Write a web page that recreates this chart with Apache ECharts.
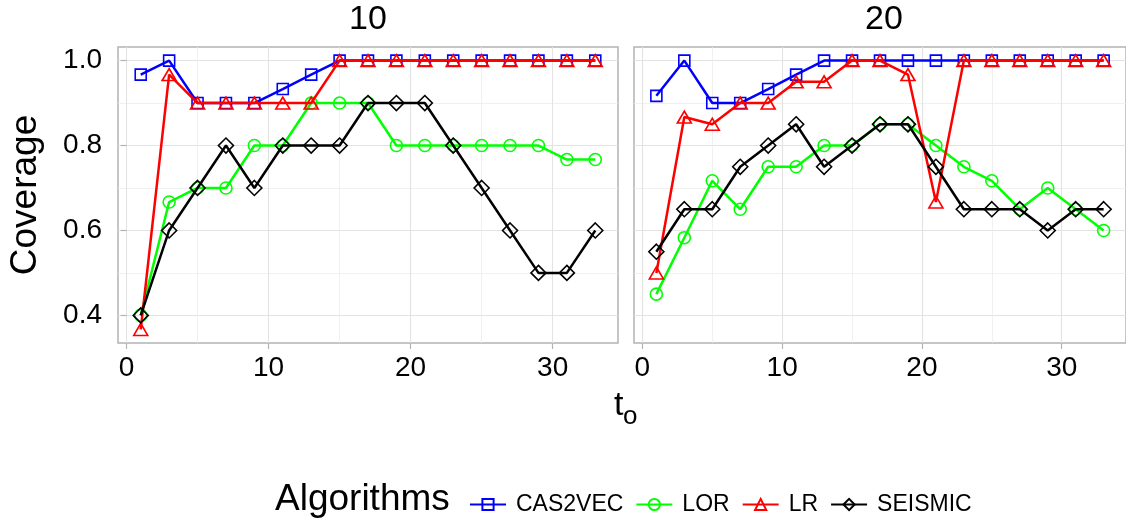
<!DOCTYPE html>
<html><head><meta charset="utf-8">
<script src="https://cdn.jsdelivr.net/npm/echarts@6/dist/echarts.min.js"></script>
<style>html,body{margin:0;padding:0;background:#fff}#c{width:1126px;height:525px}</style>
</head><body><div id="c"></div>
<script>
// ---- data ----
const panels = ['10', '20'];
const tOffsets = [1, 3, 5, 7, 9, 11, 13, 15, 17, 19, 21, 23, 25, 27, 29, 31, 33];
const algorithms = ['CAS2VEC', 'LOR', 'LR', 'SEISMIC'];
const xTickValues = [0, 10, 20, 30];
const xMinorValues = [5, 15, 25];
const yTickValues = [0.4, 0.6, 0.8, 1.0];
const yMinorValues = [0.5, 0.7, 0.9];

// panel "10"
const cas2vec10 = [0.967, 1.0, 0.9, 0.9, 0.9, 0.933, 0.967, 1.0, 1.0, 1.0, 1.0, 1.0, 1.0, 1.0, 1.0, 1.0, 1.0];
const lor10     = [0.4, 0.667, 0.7, 0.7, 0.8, 0.8, 0.9, 0.9, 0.9, 0.8, 0.8, 0.8, 0.8, 0.8, 0.8, 0.767, 0.767];
const lr10      = [0.367, 0.967, 0.9, 0.9, 0.9, 0.9, 0.9, 1.0, 1.0, 1.0, 1.0, 1.0, 1.0, 1.0, 1.0, 1.0, 1.0];
const seismic10 = [0.4, 0.6, 0.7, 0.8, 0.7, 0.8, 0.8, 0.8, 0.9, 0.9, 0.9, 0.8, 0.7, 0.6, 0.5, 0.5, 0.6];
// panel "20"
const cas2vec20 = [0.917, 1.0, 0.9, 0.9, 0.933, 0.967, 1.0, 1.0, 1.0, 1.0, 1.0, 1.0, 1.0, 1.0, 1.0, 1.0, 1.0];
const lor20     = [0.45, 0.583, 0.717, 0.65, 0.75, 0.75, 0.8, 0.8, 0.85, 0.85, 0.8, 0.75, 0.717, 0.65, 0.7, 0.65, 0.6];
const lr20      = [0.5, 0.867, 0.85, 0.9, 0.9, 0.95, 0.95, 1.0, 1.0, 0.967, 0.667, 1.0, 1.0, 1.0, 1.0, 1.0, 1.0];
const seismic20 = [0.55, 0.65, 0.65, 0.75, 0.8, 0.85, 0.75, 0.8, 0.85, 0.85, 0.75, 0.65, 0.65, 0.65, 0.6, 0.65, 0.65];

const panelData = [
  [cas2vec10, lor10, lr10, seismic10],
  [cas2vec20, lor20, lr20, seismic20]
];

// ---- style ----
const FONT = 'Liberation Sans, Arial, sans-serif';
const colors = ['#0000ff', '#00ff00', '#ff0000', '#000000'];
const symbols = ['rect', 'circle', 'triangle', 'diamond'];
const symbolSizes = [[11, 11], [12, 12], [14, 12], [15, 15]];
const gridLeft = [118, 634];
const gridW = 500, gridTop = 47, gridH = 296;
const xMin = -0.6, xMax = 34.6, yMin = 0.335, yMax = 1.032;

const chart = echarts.init(document.getElementById('c'), null, {renderer: 'canvas'});

const grids = panels.map((p, i) => ({
  left: gridLeft[i], top: gridTop, width: gridW, height: gridH,
  show: true, borderColor: '#b3b3b3', borderWidth: 1.5, backgroundColor: 'transparent'
}));

const xAxes = [];
const yAxes = [];
panels.forEach((p, i) => {
  // minor grid axes (gridlines only)
  xAxes.push({
    type: 'value', gridIndex: i, position: 'top', min: xMin, max: xMax, splitNumber: 7,
    axisLine: {show: false}, axisLabel: {show: false},
    axisTick: {show: false, customValues: xMinorValues},
    splitLine: {show: true, lineStyle: {color: '#ececec', width: 0.8}}
  });
  yAxes.push({
    type: 'value', gridIndex: i, position: 'right', min: yMin, max: yMax, splitNumber: 7,
    axisLine: {show: false}, axisLabel: {show: false},
    axisTick: {show: false, customValues: yMinorValues},
    splitLine: {show: true, lineStyle: {color: '#ececec', width: 0.8}}
  });
  // major axes (carry the data)
  xAxes.push({
    type: 'value', gridIndex: i, position: 'bottom', offset: 0, min: xMin, max: xMax, splitNumber: 7,
    axisLine: {show: false},
    axisTick: {show: true, length: 6, lineStyle: {color: '#b3b3b3', width: 1.2}, customValues: xTickValues},
    axisLabel: {show: true, fontSize: 28, fontFamily: FONT, color: '#000', margin: 11,
      customValues: xTickValues,
      formatter: v => (Math.abs(v / 10 - Math.round(v / 10)) < 1e-6 ? String(Math.round(v)) : '')},
    splitLine: {show: true, lineStyle: {color: '#e3e3e3', width: 1.1}}
  });
  yAxes.push({
    type: 'value', gridIndex: i, position: 'left', offset: 0, min: yMin, max: yMax, splitNumber: 7,
    axisLine: {show: false},
    axisTick: {show: i === 0, length: 6, lineStyle: {color: '#b3b3b3', width: 1.2}, customValues: yTickValues},
    axisLabel: {show: i === 0, fontSize: 28, fontFamily: FONT, color: '#000', margin: 16,
      customValues: yTickValues,
      formatter: v => (Math.abs(v * 5 - Math.round(v * 5)) < 1e-6 ? v.toFixed(1) : '')},
    splitLine: {show: true, lineStyle: {color: '#e3e3e3', width: 1.1}},
    name: i === 0 ? 'Coverage' : '',
    nameLocation: 'middle', nameRotate: 90, nameGap: 74,
    nameTextStyle: {fontSize: 37, fontFamily: FONT, color: '#000'}
  });
});

const series = [];
panels.forEach((p, pi) => {
  algorithms.forEach((name, ai) => {
    series.push({
      type: 'line', name: name, xAxisIndex: pi * 2 + 1, yAxisIndex: pi * 2 + 1,
      data: tOffsets.map((t, k) => [t, panelData[pi][ai][k]]),
      symbol: symbols[ai], symbolSize: symbolSizes[ai], showSymbol: true,
      itemStyle: {color: 'rgba(0,0,0,0)', borderColor: colors[ai], borderWidth: 1.6},
      lineStyle: {color: colors[ai], width: 2.5},
      emphasis: {disabled: true}, animation: false, z: 2 + ai
    });
  });
});

const option = {
  backgroundColor: '#ffffff',
  animation: false,
  grid: grids, xAxis: xAxes, yAxis: yAxes, series: series,
  legend: {
    data: algorithms, left: 469, top: 493, orient: 'horizontal', padding: 0,
    itemWidth: 36, itemHeight: 14, itemGap: 12, selectedMode: false,
    textStyle: {fontSize: 23, fontFamily: FONT, color: '#000', padding: [0, 0, 0, 5]}
  },
  graphic: [
    {type: 'text', x: gridLeft[0] + gridW / 2, y: 20, style: {text: panels[0], font: '34px ' + FONT, fill: '#000', align: 'center', verticalAlign: 'middle'}},
    {type: 'text', x: gridLeft[1] + gridW / 2, y: 20, style: {text: panels[1], font: '34px ' + FONT, fill: '#000', align: 'center', verticalAlign: 'middle'}},
    {type: 'text', x: 614, y: 406, style: {text: 't', font: '34px ' + FONT, fill: '#000', align: 'left', verticalAlign: 'middle'}},
    {type: 'text', x: 623, y: 417, style: {text: 'o', font: '26px ' + FONT, fill: '#000', align: 'left', verticalAlign: 'middle'}},
    {type: 'text', x: 275, y: 500, style: {text: 'Algorithms', font: '37px ' + FONT, fill: '#000', align: 'left', verticalAlign: 'middle'}}
  ]
};
chart.setOption(option);
</script></body></html>
